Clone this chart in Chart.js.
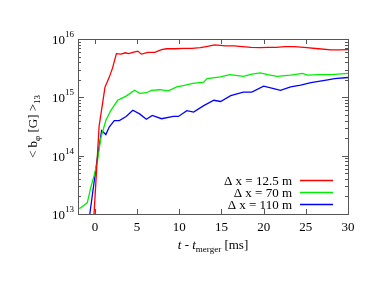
<!DOCTYPE html>
<html>
<head>
<meta charset="utf-8">
<title>b_phi vs t - t_merger</title>
<script src="https://cdn.jsdelivr.net/npm/chart.js@4/dist/chart.umd.min.js"></script>
<style>
    html, body { margin: 0; padding: 0; background: #fff; }
    canvas { display: block; }
</style>
</head>
<body>
<canvas id="chart" width="382" height="295"></canvas>
<script>
// Values (time in ms, field in Gauss)
const tRed = [-0.1, 0.5, 1.2, 1.7, 2.1, 2.55, 3.1, 3.6, 4.0, 4.5, 5.1, 5.5, 6.3, 7.1, 7.9, 8.5, 9.5, 10.5, 11.5, 12.5,
    13.2, 14.2, 15.5, 16.5, 17.5, 18.5, 19.6, 20.5, 21.5, 22.5, 23.6, 24.8, 26.5, 28.0, 29.0, 30.0];
const bRed = [1.0e13, 3.2e14, 1.5e15, 2.2e15, 3.2e15, 5.6e15, 5.5e15, 5.8e15, 5.6e15, 5.9e15, 6.2e15, 5.5e15, 5.9e15, 5.9e15,
    6.6e15, 6.8e15, 6.8e15, 6.9e15, 6.9e15, 7.1e15, 7.4e15, 7.9e15, 7.6e15, 7.6e15, 7.4e15, 7.2e15, 7.1e15, 7.2e15,
    7.2e15, 7.4e15, 7.4e15, 7.2e15, 6.8e15, 6.5e15, 6.5e15, 6.6e15];

const tGreen = [-1.85, -0.9, -0.5, -0.1, 0.3, 0.7, 1.3, 1.9, 2.7, 3.1, 3.7, 4.7, 5.3, 6.1, 6.7, 7.7, 8.7, 9.7, 10.6, 11.6,
    12.9, 13.3, 14.9, 16.0, 17.6, 18.6, 19.6, 20.5, 21.6, 23.2, 24.6, 25.2, 26.5, 28.0, 30.0];
const bGreen = [1.23e13, 1.55e13, 2.8e13, 4.5e13, 7.9e13, 2.0e14, 4.0e14, 6.0e14, 8.9e14, 9.5e14, 1.05e15, 1.32e15, 1.17e15,
    1.2e15, 1.32e15, 1.35e15, 1.29e15, 1.51e15, 1.6e15, 1.74e15, 1.82e15, 2.09e15, 2.24e15, 2.45e15, 2.29e15, 2.5e15,
    2.63e15, 2.45e15, 2.29e15, 2.4e15, 2.57e15, 2.4e15, 2.45e15, 2.45e15, 2.57e15];

const tBlue = [-0.6, 0.3, 0.8, 1.3, 1.7, 2.3, 2.9, 3.7, 4.5, 5.3, 6.1, 6.8, 7.9, 9.3, 9.9, 10.9, 11.7, 12.9, 14.1, 14.9,
    16.1, 17.6, 18.6, 20.0, 21.2, 22.0, 23.2, 24.4, 25.6, 27.6, 28.4, 30.0];
const bBlue = [1.0e13, 9.3e13, 2.7e14, 2.3e14, 3.1e14, 4.0e14, 4.0e14, 4.7e14, 6.0e14, 5.2e14, 4.2e14, 4.9e14, 4.3e14,
    4.7e14, 4.7e14, 5.9e14, 5.6e14, 7.2e14, 8.9e14, 8.5e14, 1.07e15, 1.23e15, 1.23e15, 1.55e15, 1.41e15, 1.32e15,
    1.51e15, 1.62e15, 1.78e15, 2.0e15, 2.09e15, 2.19e15];

const seriesLabels = ['\u0394 x = 12.5 m', '\u0394 x = 70 m', '\u0394 x = 110 m'];
const seriesColors = ['#ff0000', '#00ee00', '#0000ff'];
const xTicks = [0, 5, 10, 15, 20, 25, 30];
const yDecades = [13, 14, 15, 16];

const SERIF = '"Liberation Serif", "Times New Roman", serif';
const FRAME = '#555555';

function toPoints(ts, vs) {
    return ts.map((t, i) => ({ x: t, y: vs[i] }));
}

// Draw a run of text pieces (for sub/superscripts), left to right
function drawRich(ctx, parts, x, y, align) {
    let total = 0;
    parts.forEach(p => {
        ctx.font = (p.italic ? 'italic ' : '') + p.size + 'px ' + SERIF;
        p.w = ctx.measureText(p.text).width;
        total += p.w;
    });
    let cx = x;
    if (align === 'right') cx = x - total;
    if (align === 'center') cx = x - total / 2;
    parts.forEach(p => {
        ctx.font = (p.italic ? 'italic ' : '') + p.size + 'px ' + SERIF;
        ctx.fillText(p.text, cx, y + (p.dy || 0));
        cx += p.w;
    });
}

// Frame, inward ticks, log labels, axis titles and legend (gnuplot look)
const gnuplotDecor = {
    id: 'gnuplotDecor',
    afterDatasetsDraw(chart) {
        const ctx = chart.ctx;
        const area = chart.chartArea;
        const xs = chart.scales.x;
        const ys = chart.scales.y;

        ctx.save();
        ctx.strokeStyle = FRAME;
        ctx.lineWidth = 1;
        ctx.strokeRect(Math.round(area.left) + 0.5, Math.round(area.top) + 0.5,
            Math.round(area.right - area.left), Math.round(area.bottom - area.top));

        // x ticks, bottom and top
        ctx.beginPath();
        xs.ticks.forEach(t => {
            const px = Math.round(xs.getPixelForValue(t.value)) + 0.5;
            ctx.moveTo(px, area.bottom);
            ctx.lineTo(px, area.bottom - 5);
            ctx.moveTo(px, area.top);
            ctx.lineTo(px, area.top + 5);
        });
        // y ticks on the log axis, left and right
        for (let e = yDecades[0]; e < yDecades[yDecades.length - 1]; e++) {
            for (let k = 1; k <= 9; k++) {
                const py = Math.round(ys.getPixelForValue(k * Math.pow(10, e))) + 0.5;
                const len = k === 1 ? 6 : 3;
                ctx.moveTo(area.left, py);
                ctx.lineTo(area.left + len, py);
                ctx.moveTo(area.right, py);
                ctx.lineTo(area.right - len, py);
            }
        }
        ctx.stroke();

        ctx.fillStyle = '#000';
        ctx.textBaseline = 'alphabetic';

        // y tick labels 10^n
        yDecades.forEach(e => {
            const py = ys.getPixelForValue(Math.pow(10, e));
            drawRich(ctx, [
                { text: '10', size: 13 },
                { text: String(e), size: 9, dy: -7 }
            ], area.left - 4, py + 5, 'right');
        });

        // y title, rotated
        ctx.save();
        ctx.translate(37, (area.top + area.bottom) / 2);
        ctx.rotate(-Math.PI / 2);
        drawRich(ctx, [
            { text: '< b', size: 13 },
            { text: '\u03c6', size: 9, dy: 3 },
            { text: ' [G] >', size: 13 },
            { text: '13', size: 9, dy: 3 }
        ], 0, 0, 'center');
        ctx.restore();

        // x title
        drawRich(ctx, [
            { text: 't', size: 13, italic: true },
            { text: ' - ', size: 13 },
            { text: 't', size: 13, italic: true },
            { text: 'merger', size: 9, dy: 3 },
            { text: ' [ms]', size: 13 }
        ], (area.left + area.right) / 2, area.bottom + 35, 'center');

        // legend, inside bottom right
        chart.data.datasets.forEach((ds, i) => {
            const ly = area.bottom - 34 + i * 12;
            drawRich(ctx, [{ text: ds.label, size: 13 }], area.right - 56, ly + 4.5, 'right');
            ctx.strokeStyle = ds.borderColor;
            ctx.lineWidth = 1.5;
            ctx.beginPath();
            ctx.moveTo(area.right - 48, ly + 0.5);
            ctx.lineTo(area.right - 15, ly + 0.5);
            ctx.stroke();
        });
        ctx.restore();
    }
};

const ctx = document.getElementById('chart').getContext('2d');
new Chart(ctx, {
    type: 'line',
    data: {
        datasets: [
            { label: seriesLabels[0], data: toPoints(tRed, bRed), borderColor: seriesColors[0] },
            { label: seriesLabels[1], data: toPoints(tGreen, bGreen), borderColor: seriesColors[1] },
            { label: seriesLabels[2], data: toPoints(tBlue, bBlue), borderColor: seriesColors[2] }
        ]
    },
    options: {
        responsive: false,
        animation: false,
        devicePixelRatio: 1,
        layout: { padding: { top: 39, right: 34, left: 0, bottom: 0 } },
        elements: {
            point: { radius: 0 },
            line: { borderWidth: 1.3, tension: 0, fill: false }
        },
        plugins: {
            legend: { display: false },
            tooltip: { enabled: false }
        },
        scales: {
            x: {
                type: 'linear',
                min: -2,
                max: 30,
                // only the multiples of five get a tick, as in the original
                afterBuildTicks: scale => {
                    scale.ticks = xTicks.map(v => ({ value: v }));
                },
                afterFit: scale => { scale.height = 81; },
                ticks: {
                    color: '#000',
                    padding: 6,
                    maxRotation: 0,
                    autoSkip: false,
                    font: { family: SERIF, size: 13 }
                },
                grid: { display: false, drawTicks: false },
                border: { display: false }
            },
            y: {
                type: 'logarithmic',
                min: 1e13,
                max: 1e16,
                afterFit: scale => { scale.width = 78; },
                ticks: { display: false },
                grid: { display: false, drawTicks: false },
                border: { display: false }
            }
        }
    },
    plugins: [gnuplotDecor]
});
</script>
</body>
</html>
